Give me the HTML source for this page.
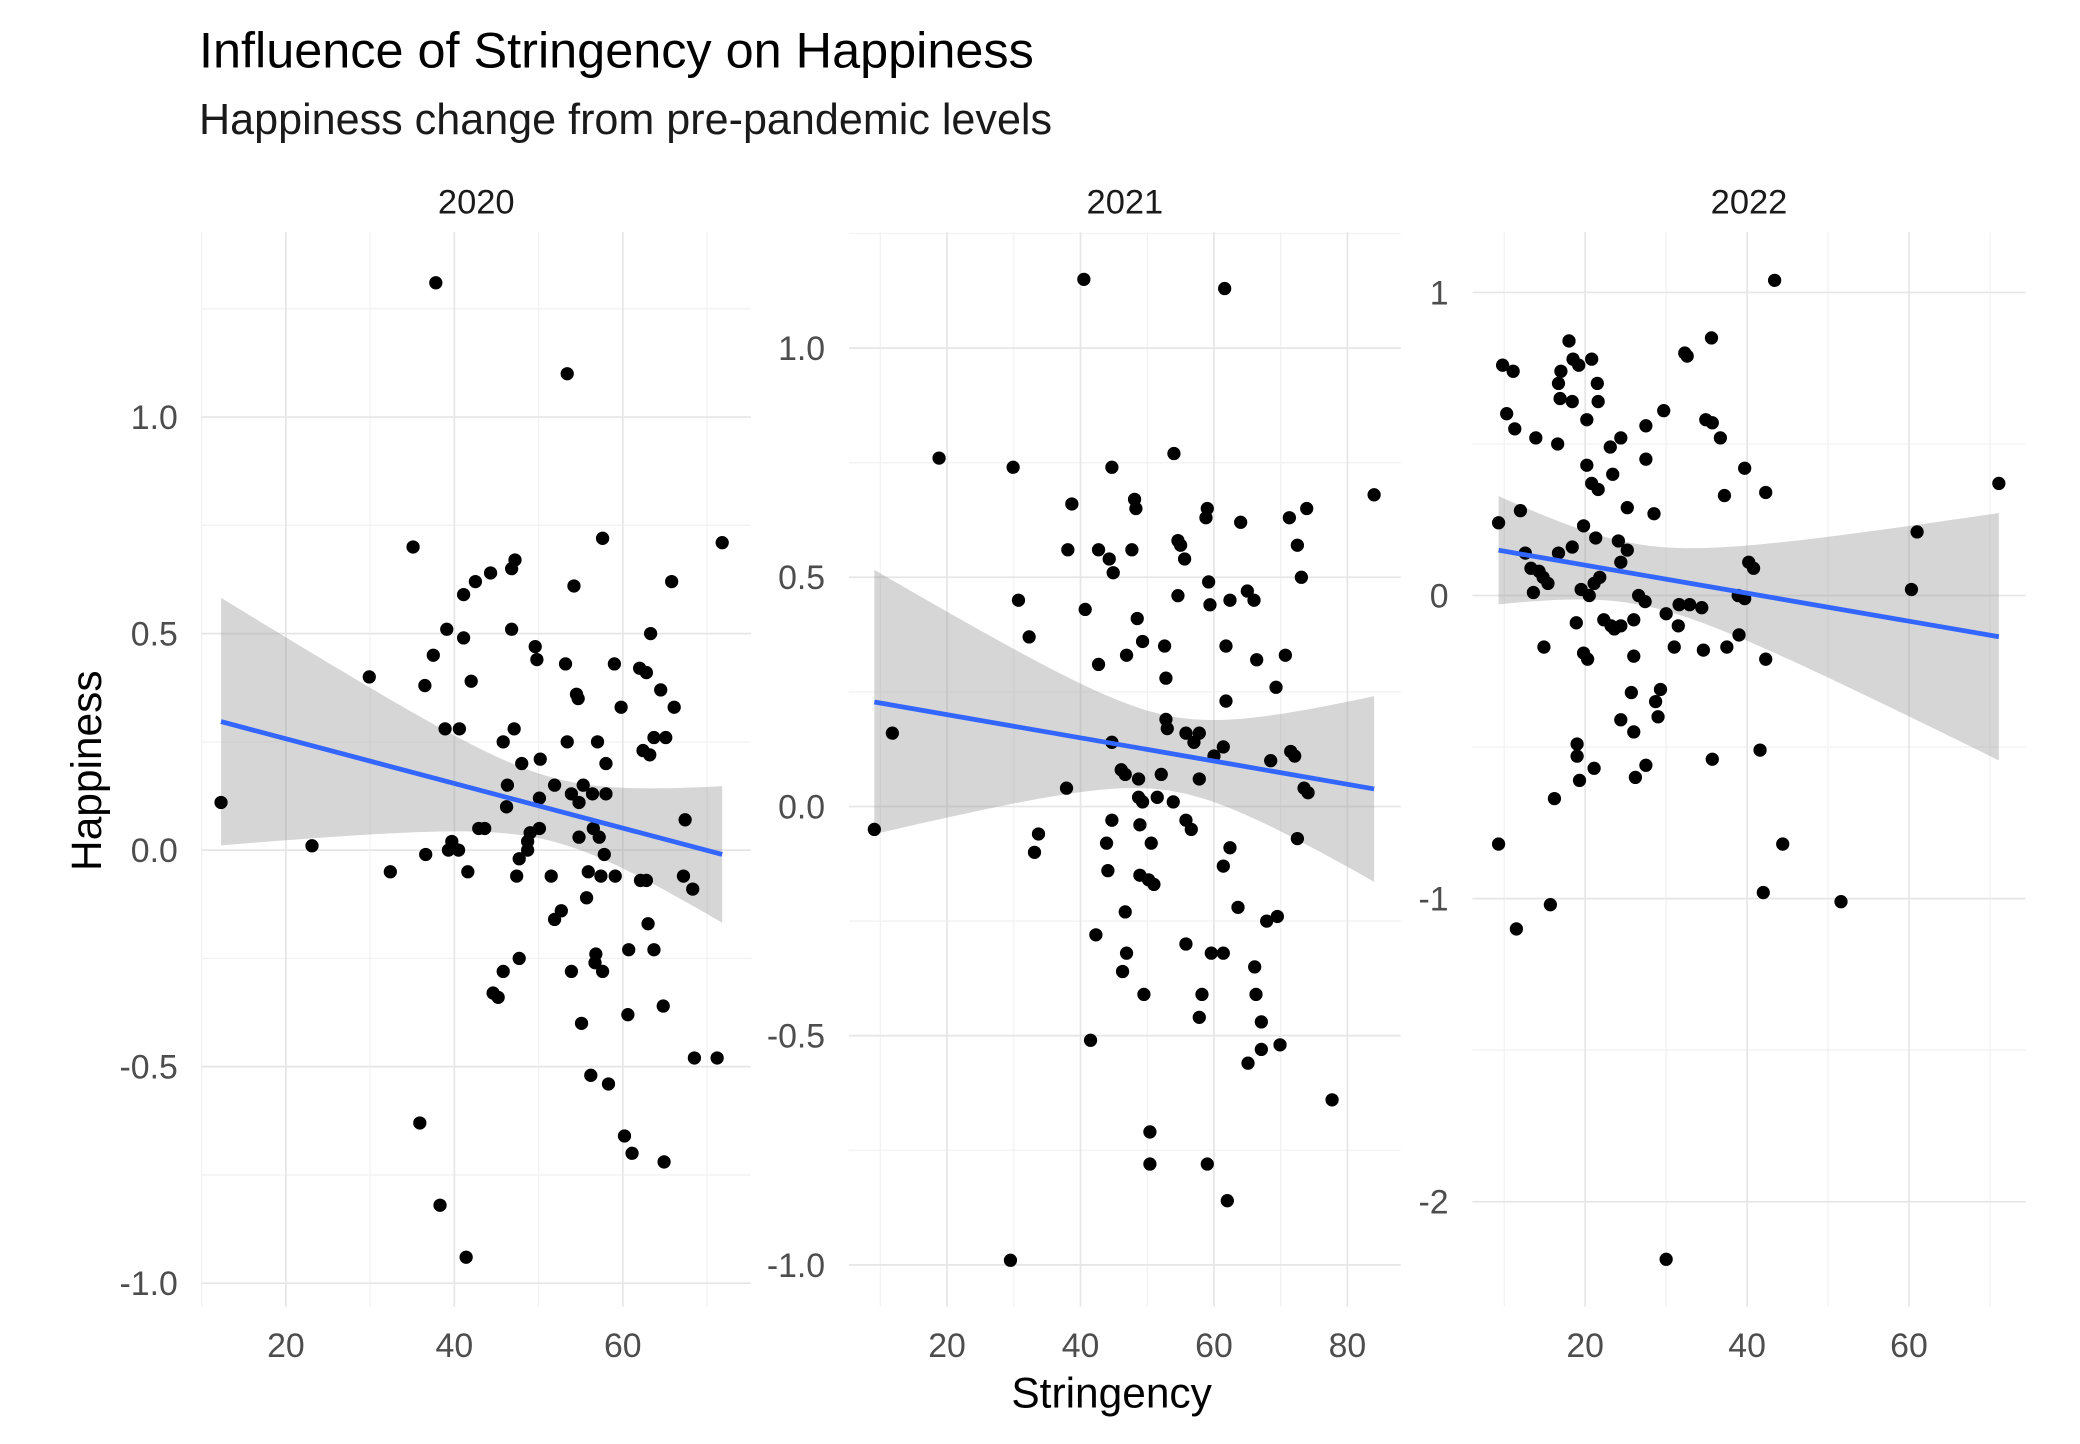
<!DOCTYPE html>
<html><head><meta charset="utf-8"><style>
html,body{margin:0;padding:0;background:#fff}
svg{display:block}
text{font-family:"Liberation Sans",Arial,sans-serif}
</style></head><body>
<svg id="chart" width="2080" height="1444" viewBox="0 0 1568 1088.6" xmlns="http://www.w3.org/2000/svg">
<text x="150" y="51" font-size="38" fill="#000">Influence of Stringency on Happiness</text>
<text x="150" y="101" font-size="32.5" fill="#1a1a1a">Happiness change from pre-pandemic levels</text>
<text transform="translate(76,581) rotate(-90)" text-anchor="middle" font-size="32" fill="#000">Happiness</text>
<text x="838" y="1061" text-anchor="middle" font-size="32" fill="#000">Stringency</text>
<g id="panels"></g>
</svg>
<script>
// ---- data ----
const facetYears = ["2020","2021","2022"];
const x2020 = [12.3,37.8,53.4,71.8,57.6,35.1,47.2,46.8,44.3,42.5,41.1,54.2,65.8,29.9,37.5,39.1,41.1,46.8,49.6,49.8,53.2,54.5,54.7,59.0,62,62.8,63.3,36.5,42,59.8,64.5,66.1,38.9,40.6,47.1,45.8,53.4,57,50.2,48,58,63.2,63.7,65.1,62.4,46.3,51.9,55.3,46.2,50.1,53.9,56.4,58,54.8,42.9,43.6,49,50.1,56.5,54.8,57.2,48.7,39.7,40.5,23.1,39.3,36.6,47.7,48.7,32.4,41.6,47.4,51.5,55.9,57.4,59.1,62.1,62.8,67.2,67.4,68.3,57.8,55.7,51.9,52.7,63.0,60.7,63.7,45.8,47.7,53.9,56.8,57.6,56.7,44.6,45.2,64.8,60.6,55.1,68.5,71.2,56.2,58.3,35.9,60.2,61.1,64.9,38.3,41.4];
const y2020 = [0.11,1.31,1.10,0.71,0.72,0.70,0.67,0.65,0.64,0.62,0.59,0.61,0.62,0.40,0.45,0.51,0.49,0.51,0.47,0.44,0.43,0.36,0.35,0.43,0.42,0.41,0.50,0.38,0.39,0.33,0.37,0.33,0.28,0.28,0.28,0.25,0.25,0.25,0.21,0.20,0.20,0.22,0.26,0.26,0.23,0.15,0.15,0.15,0.10,0.12,0.13,0.13,0.13,0.11,0.05,0.05,0.04,0.05,0.05,0.03,0.03,0.02,0.02,0.00,0.01,0.0,-0.01,-0.02,0,-0.05,-0.05,-0.06,-0.06,-0.05,-0.06,-0.06,-0.07,-0.07,-0.06,0.07,-0.09,-0.01,-0.11,-0.16,-0.14,-0.17,-0.23,-0.23,-0.28,-0.25,-0.28,-0.24,-0.28,-0.26,-0.33,-0.34,-0.36,-0.38,-0.40,-0.48,-0.48,-0.52,-0.54,-0.63,-0.66,-0.70,-0.72,-0.82,-0.94];
const x2021 = [9.1,11.8,18.8,29.9,30.7,32.3,33.7,33.1,29.5,37.9,40.5,38.7,38.1,40.7,42.7,44.7,44.3,44.9,47.7,48.1,48.3,42.7,46.9,49.3,48.5,52.6,52.8,54,54.6,55,55.6,54.6,59,58.8,64,59.2,62.4,65,66,59.4,61.8,66.4,70.7,61.8,69.3,71.3,73.9,72.5,73.1,84,52.8,53,55.8,57.8,57,61.4,44.7,46.1,48.7,52.1,57.8,60,68.5,71.5,72.1,73.5,74.1,46.7,48.7,51.5,53.9,49.3,44.7,48.9,55.8,56.6,50.6,43.9,62.4,72.5,44.1,48.9,50.2,51,61.4,46.7,63.6,42.3,55.8,46.9,46.3,49.5,58.2,59.6,61.4,66.1,66.3,67.9,69.5,57.8,67.1,69.9,65.1,67.1,77.7,41.5,50.4,50.4,59,62,61.6];
const y2021 = [-0.05,0.16,0.76,0.74,0.45,0.37,-0.06,-0.10,-0.99,0.04,1.15,0.66,0.56,0.43,0.56,0.74,0.54,0.51,0.56,0.67,0.65,0.31,0.33,0.36,0.41,0.35,0.28,0.77,0.58,0.57,0.54,0.46,0.65,0.63,0.62,0.49,0.45,0.47,0.45,0.44,0.35,0.32,0.33,0.23,0.26,0.63,0.65,0.57,0.50,0.68,0.19,0.17,0.16,0.16,0.14,0.13,0.14,0.08,0.06,0.07,0.06,0.11,0.10,0.12,0.11,0.04,0.03,0.07,0.02,0.02,0.01,0.01,-0.03,-0.04,-0.03,-0.05,-0.08,-0.08,-0.09,-0.07,-0.14,-0.15,-0.16,-0.17,-0.13,-0.23,-0.22,-0.28,-0.30,-0.32,-0.36,-0.41,-0.41,-0.32,-0.32,-0.35,-0.41,-0.25,-0.24,-0.46,-0.47,-0.52,-0.56,-0.53,-0.64,-0.51,-0.71,-0.78,-0.78,-0.86,1.13];
const x2022 = [9.3,9.8,11.1,10.3,11.3,12,9.3,11.5,15.7,16.2,14.9,12.6,13.3,13.6,14.8,14.3,15.4,16.7,13.9,16.6,16.9,16.7,17,18,18.5,19.2,20.8,18.4,20.2,21.5,21.6,23.1,24.4,23.4,20.2,20.8,21.6,27.5,27.5,25.2,28.5,29.7,32.3,32.6,35.6,34.9,35.7,36.7,37.2,39.7,42.3,43.4,71.1,61,60.3,19.8,18.4,21.3,24.1,25.2,24.4,21.1,20.5,21.8,19.5,26.6,26,27.4,30,31.6,32.9,31.5,34.4,40.2,40.8,38.9,39.7,18.9,22.3,23.6,24.4,23.2,19.8,20.3,26,31,34.6,37.5,39,42.3,25.7,29.3,28.7,29,24.4,26,19,19,21.1,19.3,26.2,27.5,35.7,41.6,44.4,42,51.6,30];
const y2022 = [0.24,0.76,0.74,0.60,0.55,0.28,-0.82,-1.10,-1.02,-0.67,-0.17,0.14,0.09,0.01,0.06,0.08,0.04,0.14,0.52,0.50,0.65,0.70,0.74,0.84,0.78,0.76,0.78,0.64,0.58,0.70,0.64,0.49,0.52,0.40,0.43,0.37,0.35,0.56,0.45,0.29,0.27,0.61,0.80,0.79,0.85,0.58,0.57,0.52,0.33,0.42,0.34,1.04,0.37,0.21,0.02,0.23,0.16,0.19,0.18,0.15,0.11,0.04,0.00,0.06,0.02,0.0,-0.08,-0.02,-0.06,-0.03,-0.03,-0.10,-0.04,0.11,0.09,0.00,-0.01,-0.09,-0.08,-0.11,-0.10,-0.10,-0.19,-0.21,-0.20,-0.17,-0.18,-0.17,-0.13,-0.21,-0.32,-0.31,-0.35,-0.40,-0.41,-0.45,-0.49,-0.53,-0.57,-0.61,-0.60,-0.56,-0.54,-0.51,-0.82,-0.98,-1.01,-2.19];
const xTicks2020 = [20,40,60], yTicks2020 = [-1.0,-0.5,0.0,0.5,1.0];
const xTicks2021 = [20,40,60,80], yTicks2021 = [-1.0,-0.5,0.0,0.5,1.0];
const xTicks2022 = [20,40,60], yTicks2022 = [-2,-1,0,1];
const yLabels2020 = ["-1.0","-0.5","0.0","0.5","1.0"];
const yLabels2021 = ["-1.0","-0.5","0.0","0.5","1.0"];
const yLabels2022 = ["-2","-1","0","1"];

// ---- layout ----
const NS="http://www.w3.org/2000/svg";
const root=document.getElementById('panels');
const panels=[
 {year:facetYears[0],xs:x2020,ys:y2020,xt:xTicks2020,yt:yTicks2020,yl:yLabels2020,px:[152,566],dx:[10,75.2],dy:[-1.054,1.427],xminor:10,yminor:0.25},
 {year:facetYears[1],xs:x2021,ys:y2021,xt:xTicks2021,yt:yTicks2021,yl:yLabels2021,px:[640,1056],dx:[5.3,88],dy:[-1.091,1.253],xminor:10,yminor:0.25},
 {year:facetYears[2],xs:x2022,ys:y2022,xt:xTicks2022,yt:yTicks2022,yl:yLabels2022,px:[1110,1527],dx:[6.07,74.4],dy:[-2.346,1.199],xminor:10,yminor:0.5}
];
const TOP=175,BOT=985;
function mk(tag,attrs,parent){const e=document.createElementNS(NS,tag);for(const k in attrs)e.setAttribute(k,attrs[k]);parent.appendChild(e);return e;}
panels.forEach((p,pi)=>{
 const sx=v=>p.px[0]+(v-p.dx[0])/(p.dx[1]-p.dx[0])*(p.px[1]-p.px[0]);
 const sy=v=>BOT-(v-p.dy[0])/(p.dy[1]-p.dy[0])*(BOT-TOP);
 const g=mk('g',{},root);
 
 
 const strip=mk('text',{x:(p.px[0]+p.px[1])/2,y:161,'text-anchor':'middle','font-size':'26',fill:'#1a1a1a'},g);
 strip.textContent=p.year;
 
 
 for(let v=Math.ceil(p.dx[0]/p.xminor)*p.xminor; v<=p.dx[1]; v+=p.xminor){
  if(p.xt.some(t=>Math.abs(t-v)<1e-6))continue;
  const l=mk('line',{x1:sx(v),x2:sx(v),y1:TOP,y2:BOT,stroke:'#f2f2f2','stroke-width':1},g);
  
  
 }
 for(let v=Math.ceil(p.dy[0]/p.yminor)*p.yminor; v<=p.dy[1]; v+=p.yminor){
  if(p.yt.some(t=>Math.abs(t-v)<1e-6))continue;
  const l=mk('line',{x1:p.px[0],x2:p.px[1],y1:sy(v),y2:sy(v),stroke:'#f2f2f2','stroke-width':1},g);
  
  
 }
 p.xt.forEach(t=>{
  const l=mk('line',{x1:sx(t),x2:sx(t),y1:TOP,y2:BOT,stroke:'#e6e6e6','stroke-width':1.3},g);
  
  
  const tx=mk('text',{x:sx(t),y:1023,'text-anchor':'middle','font-size':'25.5',fill:'#4d4d4d'},g);
  tx.textContent=String(t);
  
  
 });
 p.yt.forEach((t,i)=>{
  const l=mk('line',{x1:p.px[0],x2:p.px[1],y1:sy(t),y2:sy(t),stroke:'#e6e6e6','stroke-width':1.3},g);
  
  
  const tx=mk('text',{x:p.px[0]-18,y:sy(t)+9,'text-anchor':'end','font-size':'25.5',fill:'#4d4d4d'},g);
  tx.textContent=p.yl[i];
  
  
 });
 const n=p.xs.length;
 const mx=p.xs.reduce((a,b)=>a+b,0)/n, my=p.ys.reduce((a,b)=>a+b,0)/n;
 let sxx=0,sxy=0;for(let i=0;i<n;i++){sxx+=(p.xs[i]-mx)**2;sxy+=(p.xs[i]-mx)*(p.ys[i]-my);}
 const b=sxy/sxx,a=my-b*mx;
 let sse=0;for(let i=0;i<n;i++)sse+=(p.ys[i]-a-b*p.xs[i])**2;
 const s=Math.sqrt(sse/(n-2)), tq=1.984;
 const x0=Math.min(...p.xs),x1=Math.max(...p.xs);
 const up=[],lo=[];
 for(let k=0;k<=80;k++){const x=x0+(x1-x0)*k/80;const yh=a+b*x;const se=s*Math.sqrt(1/n+(x-mx)**2/sxx);
  up.push(sx(x).toFixed(2)+','+sy(yh+tq*se).toFixed(2));lo.unshift(sx(x).toFixed(2)+','+sy(yh-tq*se).toFixed(2));}
 const band=mk('polygon',{points:up.concat(lo).join(' '),fill:'#999999','fill-opacity':0.4},g);
 
 
 p.xs.forEach((x,i)=>{
  const c=mk('circle',{cx:sx(x),cy:sy(p.ys[i]),r:5,fill:'#000'},g);
  
  
 });
 const ln=mk('line',{x1:sx(x0),y1:sy(a+b*x0),x2:sx(x1),y2:sy(a+b*x1),stroke:'#3366FF','stroke-width':3.6},g);
 
 
});
</script>
</body></html>
